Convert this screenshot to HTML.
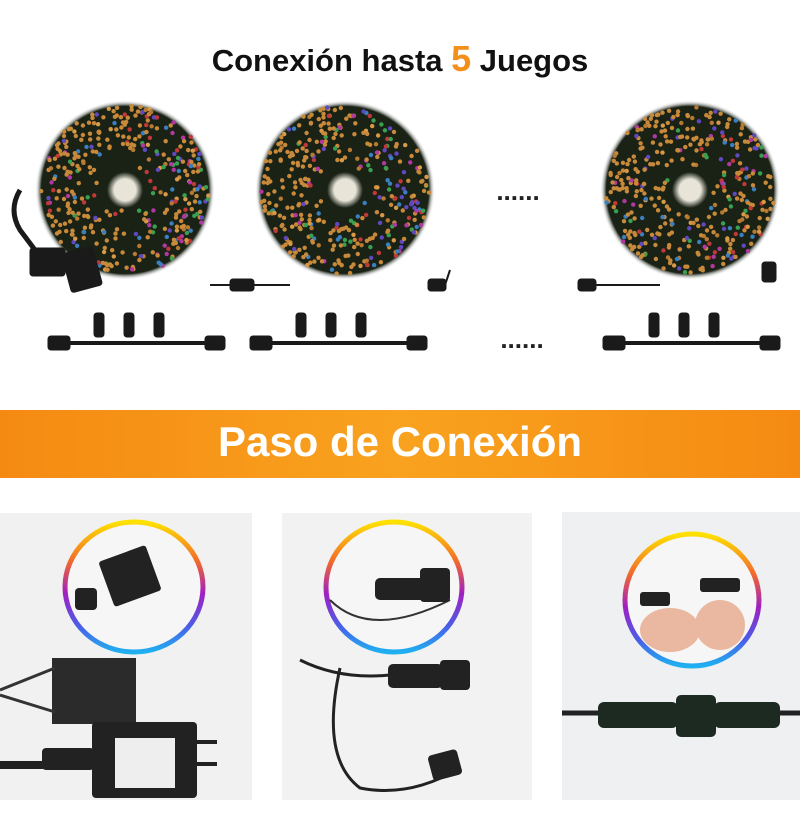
<!DOCTYPE html>
<html><head><meta charset="utf-8"><style>
body{margin:0;width:800px;height:838px;background:#fff;position:relative;overflow:hidden;font-family:"Liberation Sans",sans-serif}
.t{position:absolute;left:0;width:800px;text-align:center;font-weight:bold}
</style></head><body>
<div class="t" style="top:38px;font-size:31px;color:#111">Conexión hasta <span style="color:#f39019;font-size:36px">5</span> Juegos</div>
<div style="position:absolute;left:0;top:410px;width:800px;height:68px;background:linear-gradient(90deg,#f58a12,#f9a21f 50%,#f58a12)"></div>
<div class="t" style="top:418px;font-size:42px;color:#fff">Paso de Conexión</div>
<svg id="s" width="800" height="838" style="position:absolute;left:0;top:0">
<defs>
<radialGradient id="w"><stop offset="0.12" stop-color="#e8e4d8"/><stop offset="0.2" stop-color="#1a2216"/><stop offset="0.93" stop-color="#1a2216"/><stop offset="1" stop-color="#fff" stop-opacity="0"/></radialGradient>
<linearGradient id="rb" x1="0" y1="0" x2="0" y2="1"><stop offset="0" stop-color="#ffe100"/><stop offset="0.3" stop-color="#f26a2a"/><stop offset="0.55" stop-color="#a020c0"/><stop offset="0.8" stop-color="#4a5de8"/><stop offset="1" stop-color="#1fb0f0"/></linearGradient>
</defs>
<g id="wr"></g>
<text x="518" y="200" font-size="26" font-weight="bold" text-anchor="middle" fill="#222">......</text>
<text x="522" y="348" font-size="26" font-weight="bold" text-anchor="middle" fill="#222">......</text>
<g fill="#1a1a1a" stroke="#1a1a1a">
<g id="c1"><line x1="55" y1="343" x2="225" y2="343" stroke-width="4"/><rect x="48" y="336" width="22" height="14" rx="3"/><rect x="205" y="336" width="20" height="14" rx="3"/><rect x="94" y="313" width="10" height="24" rx="3"/><rect x="124" y="313" width="10" height="24" rx="3"/><rect x="154" y="313" width="10" height="24" rx="3"/></g>
<use href="#c1" x="202"/><use href="#c1" x="555"/>
<line x1="210" y1="285" x2="290" y2="285" stroke-width="2"/><rect x="230" y="279" width="24" height="12" rx="3"/><rect x="428" y="279" width="18" height="12" rx="3"/><line x1="445" y1="285" x2="450" y2="270" stroke-width="2"/>
<rect x="578" y="279" width="18" height="12" rx="3"/><line x1="596" y1="285" x2="660" y2="285" stroke-width="2"/><rect x="762" y="262" width="14" height="20" rx="3"/>
<rect x="30" y="248" width="35" height="28" rx="3"/><rect x="66" y="250" width="32" height="40" rx="3" transform="rotate(-15 80 270)"/>
<path d="M20 190 q-12 20 0 40 l15 20" fill="none" stroke-width="5"/>
</g>
<rect x="0" y="513" width="252" height="287" fill="#f1f1f1"/>
<rect x="282" y="513" width="250" height="287" fill="#f2f2f2"/>
<rect x="562" y="512" width="238" height="288" fill="#eff0f2"/>
<g fill="#222">
<rect x="52" y="658" width="84" height="66" fill="#2b2b2b"/><path d="M0 690 L55 668 M0 695 L55 712" stroke="#333" stroke-width="3"/>
<rect x="92" y="722" width="105" height="76" rx="4"/><rect x="115" y="738" width="60" height="50" fill="#eee"/><rect x="42" y="748" width="52" height="22" rx="4"/><path d="M0 765h45" stroke="#222" stroke-width="8"/>
<rect x="197" y="740" width="20" height="4"/><rect x="197" y="762" width="20" height="4"/>
<path d="M300 660 q40 20 90 15" stroke="#222" stroke-width="3" fill="none"/><path d="M340 668 q-20 90 20 120 q50 10 100 -20" stroke="#222" stroke-width="3" fill="none"/>
<rect x="388" y="664" width="55" height="24" rx="5"/><rect x="440" y="660" width="30" height="30" rx="4"/><rect x="430" y="752" width="30" height="26" rx="4" transform="rotate(-15 445 765)"/>
<path d="M562 713h40M760 713h40" stroke="#222" stroke-width="5"/><rect x="598" y="702" width="80" height="26" rx="6" fill="#1d2a22"/><rect x="676" y="695" width="40" height="42" rx="5" fill="#1d2a22"/><rect x="714" y="702" width="66" height="26" rx="6" fill="#1d2a22"/>
</g>
<g fill="#f6f6f6" stroke="url(#rb)" stroke-width="5">
<ellipse cx="134" cy="587" rx="69" ry="65"/><ellipse cx="394" cy="587" rx="68" ry="65"/><ellipse cx="692" cy="600" rx="67" ry="66"/>
</g>
<g fill="#222"><rect x="105" y="552" width="50" height="48" rx="3" transform="rotate(-20 130 576)"/><rect x="75" y="588" width="22" height="22" rx="4"/>
<path d="M330 600 q40 40 120 0" stroke="#333" stroke-width="2" fill="none"/><rect x="375" y="578" width="50" height="22" rx="5"/><rect x="420" y="568" width="30" height="34" rx="4"/>
<rect x="640" y="592" width="30" height="14" rx="3"/><rect x="700" y="578" width="40" height="14" rx="3"/>
<ellipse cx="670" cy="630" rx="30" ry="22" fill="#eab8a0"/><ellipse cx="720" cy="625" rx="25" ry="25" fill="#eab8a0"/></g>
</svg>
<script>
var g=document.getElementById('wr'),h='';
var cs=['#c88a3a','#d99a48','#b87a30','#c88a3a','#c88a3a','#c88a3a','#3a80c0','#b038a0','#38a050','#c03838','#6048c0'];
[[125,190,90],[345,190,90],[690,190,90]].forEach(function(w){
h+='<circle cx="'+w[0]+'" cy="'+w[1]+'" r="'+w[2]+'" fill="url(#w)"/>';
var s=w[0]*7+3;function r(){s=(s*9301+49297)%233280;return s/233280;}
for(var i=0;i<380;i++){var a=r()*6.283,d=w[2]*(0.22+0.72*Math.sqrt(r()));var x=w[0]+Math.cos(a)*d,y=w[1]+Math.sin(a)*d;var c=cs[Math.floor(r()*cs.length)];if(Math.cos(a)<0.2&&r()<0.6)c='#c88a3a';h+='<circle cx="'+x.toFixed(1)+'" cy="'+y.toFixed(1)+'" r="2.2" fill="'+c+'"/>';}
});
g.innerHTML=h;
</script>
</body></html>
